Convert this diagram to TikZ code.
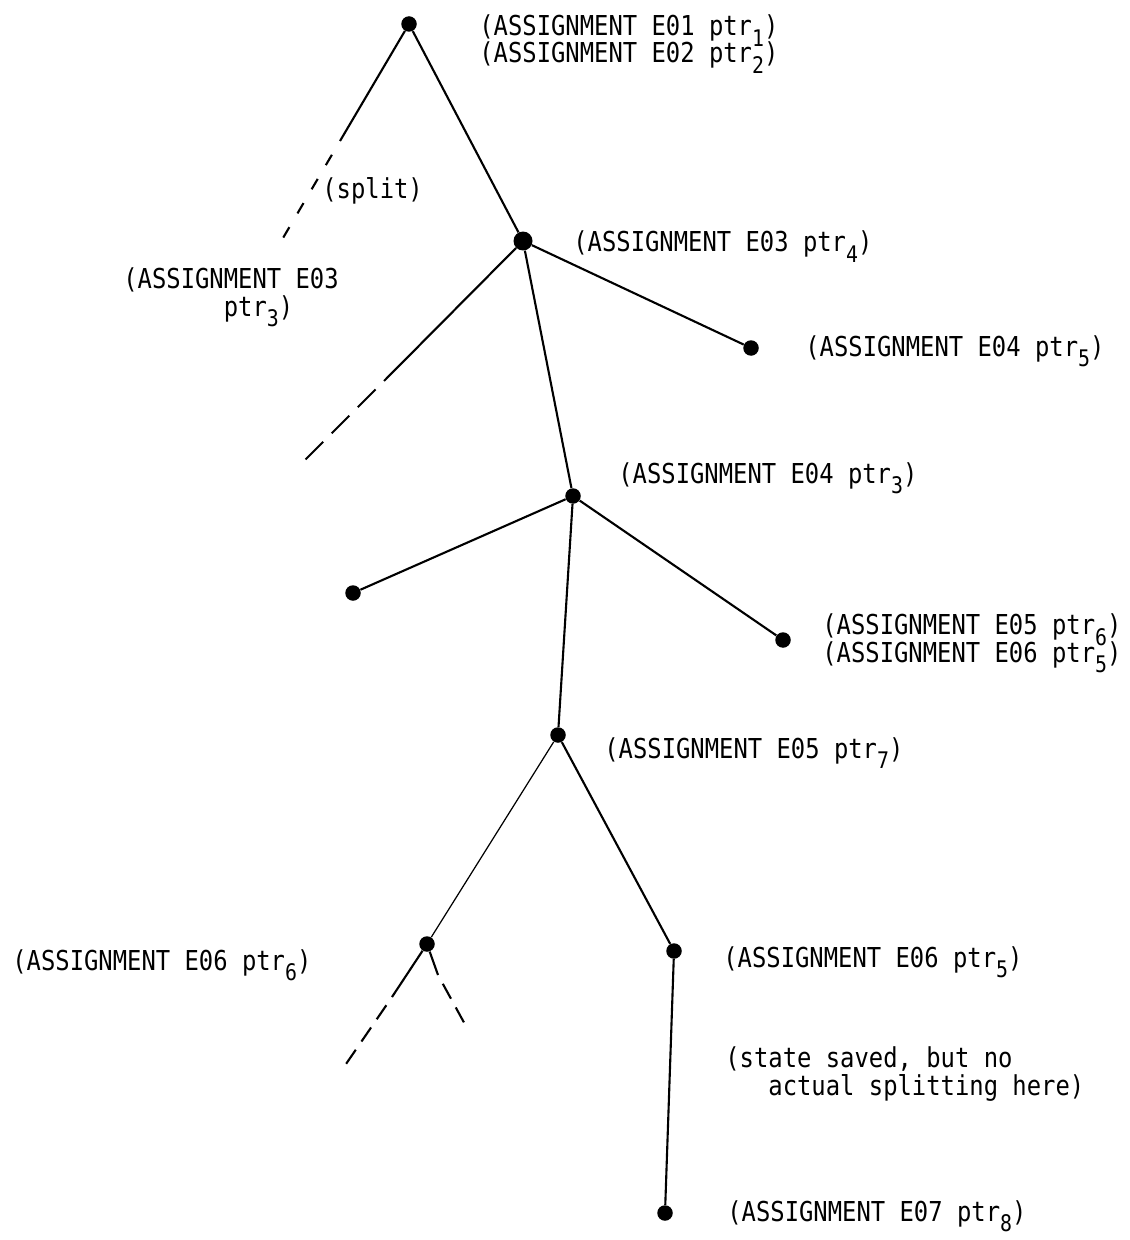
\documentclass[tikz,border=0pt]{standalone}
\usepackage{fontspec}
\setmainfont[FakeStretch=0.87]{DejaVu Sans Mono}
\newcommand{\ptrsub}[1]{\smash{\raisebox{-6pt}{\fontsize{13}{13}\selectfont #1}}}

\begin{document}
\begin{tikzpicture}[x=0.02cm, y=-0.02cm,
    dot/.style={circle, fill, inner sep=0pt, minimum size=0.31cm},
    lbl/.style={anchor=base west, inner sep=0pt, align=left, font=\fontsize{15.6}{15.6}\selectfont},
    branch/.style={line width=1.2pt},
    splitcut/.style={line width=1.2pt, dash pattern=on 0.24cm off 0.32cm, dash phase=0.24cm},
    longcut/.style={line width=1.2pt, dash pattern=on 0.5cm off 0.24cm, dash phase=0.5cm},
    shortcut/.style={line width=1.2pt, dash pattern=on 0.34cm off 0.2cm, dash phase=0.34cm}]
    \useasboundingbox (0,0) rectangle (1129,1240);

    \node[dot] (n1) at (409,24) {};
    \node[dot, minimum size=0.38cm] (n2) at (523,241) {};
    \node[dot] (n3) at (751,348) {};
    \node[dot] (n4) at (573,496) {};
    \node[dot] (n5) at (353,593) {};
    \node[dot] (n6) at (783,640) {};
    \node[dot] (n7) at (558,735) {};
    \node[dot] (n8) at (427,944) {};
    \node[dot] (n9) at (674,951) {};
    \node[dot] (n10) at (665,1213) {};

    \node[lbl] (l1) at (479,63) {(ASSIGNMENT E01 ptr\ptrsub{1})\\(ASSIGNMENT E02 ptr\ptrsub{2})};
    \node[lbl] (lsplit) at (322,199) {(split)};
    \node[lbl] (l3) at (123,316) {(ASSIGNMENT E03\\\phantom{(ASSIGN}ptr\ptrsub{3})};
    \node[lbl] (l2) at (573,252) {(ASSIGNMENT E03 ptr\ptrsub{4})};
    \node[lbl] (l4) at (805,356) {(ASSIGNMENT E04 ptr\ptrsub{5})};
    \node[lbl] (l5) at (618,483) {(ASSIGNMENT E04 ptr\ptrsub{3})};
    \node[lbl] (l6) at (822,662) {(ASSIGNMENT E05 ptr\ptrsub{6})\\(ASSIGNMENT E06 ptr\ptrsub{5})};
    \node[lbl] (l7) at (604,758) {(ASSIGNMENT E05 ptr\ptrsub{7})};
    \node[lbl] (l8) at (12,970) {(ASSIGNMENT E06 ptr\ptrsub{6})};
    \node[lbl] (l9) at (723,967) {(ASSIGNMENT E06 ptr\ptrsub{5})};
    \node[lbl] (lstate) at (725,1095) {(state saved, but no\\\phantom{(st}actual splitting here)};
    \node[lbl] (l10) at (727,1221) {(ASSIGNMENT E07 ptr\ptrsub{8})};

    \coordinate (s1) at (340,141);
    \coordinate (e1) at (283,238);
    \coordinate (s2) at (384,381);
    \coordinate (e2) at (305,460);
    \coordinate (s3) at (392,997);
    \coordinate (e3) at (346,1064);
    \coordinate (s4) at (438,975);
    \coordinate (e4) at (467,1028);

    \draw[branch] (n1) -- (n2);
    \draw[branch] (n1) -- (s1);
    \draw[splitcut] (s1) -- (e1);
    \draw[branch] (n2) -- (n3);
    \draw[branch] (n2) -- (n4);
    \draw[branch] (n2) -- (s2);
    \draw[longcut] (s2) -- (e2);
    \draw[branch] (n4) -- (n5);
    \draw[branch] (n4) -- (n6);
    \draw[branch] (n4) -- (n7);
    \draw[branch, line width=0.7pt] (n7) -- (n8);
    \draw[branch] (n7) -- (n9);
    \draw[branch] (n8) -- (s3);
    \draw[shortcut] (s3) -- (e3);
    \draw[branch] (n8) -- (s4);
    \draw[shortcut] (s4) -- (e4);
    \draw[branch] (n9) -- (n10);
\end{tikzpicture}
\end{document}
